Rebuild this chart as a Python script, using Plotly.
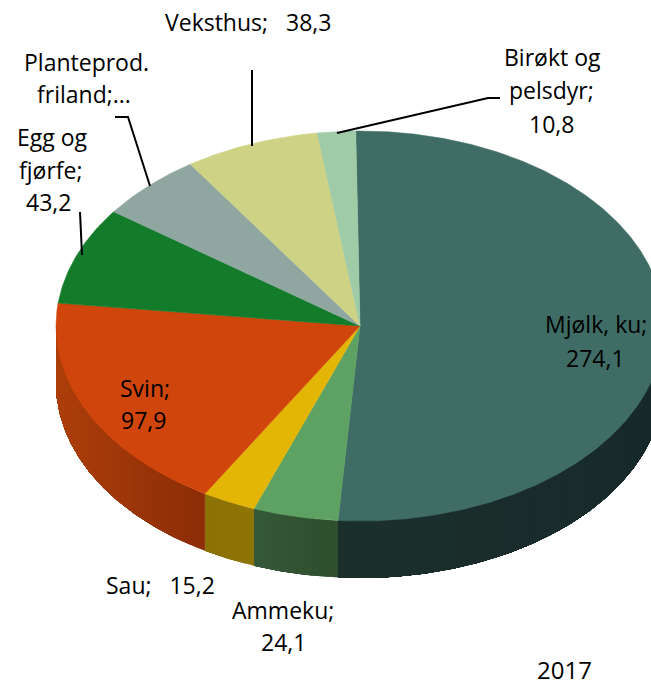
import numpy as np
import plotly.graph_objects as go

# Data (2017); Planteprod. value is hidden in the source label, estimated from its slice
categories = ["Mjølk, ku", "Ammeku", "Sau", "Svin", "Egg og fjørfe",
              "Planteprod. friland", "Veksthus", "Birøkt og pelsdyr"]
values = [274.1, 24.1, 15.2, 97.9, 43.2, 29.9, 38.3, 10.8]

top_colors = ["#3f6d65", "#5ea263", "#e3b606", "#d0450c", "#137c2b",
              "#90a7a1", "#cdd285", "#9fcba6"]
wall_left = ["#1c312d", "#36593a", "#8c7205", "#ad3f0b", "#0b4a1a",
             "#566460", "#7b7e50", "#5f7a64"]
wall_right = ["#18292a", "#2f4f2d", "#8f7406", "#8c2d07", "#0b4a1a",
              "#566460", "#7b7e50", "#5f7a64"]

# Pie geometry in picture pixels
CX, CY, RX, RY, DEPTH, START = 360, 326, 304, 195, 57, -0.8
W, H = 651, 687


def hex2rgb(h):
    return np.array([int(h[i:i + 2], 16) for i in (1, 3, 5)], dtype=float)


def ell(t):
    r = np.radians(t)
    return CX + RX * np.sin(r), CY - RY * np.cos(r)


fig = go.Figure()
fr = np.array(values) / sum(values) * 360
edges = START + np.concatenate([[0], np.cumsum(fr)])

# Side wall: overlapping bands shaded across each front-facing slice (painter's order)
for i in range(len(values)):
    a, b = max(edges[i], 90), min(edges[i + 1], 270)
    if b <= a:
        continue
    n = max(int((b - a) / 1.5), 1)
    ts = np.linspace(a, b, n + 1)
    c0, c1 = hex2rgb(wall_left[i]), hex2rgb(wall_right[i])
    xa, xb = ell(a)[0], ell(b)[0]
    for j in range(n):
        sub = np.linspace(ts[j], b, max(int((b - ts[j]) * 2), 3))
        x, y = ell(sub)
        xs = np.concatenate([x, x[::-1], [x[0]]])
        ys = np.concatenate([y, y[::-1] + DEPTH, [y[0]]])
        xm = ell((ts[j] + ts[j + 1]) / 2)[0]
        f = (xa - xm) / (xa - xb)
        col = c1 + (c0 - c1) * f
        colour = "rgb(%d,%d,%d)" % tuple(col)
        fig.add_trace(go.Scatter(x=xs, y=ys, mode="lines", fill="toself", fillcolor=colour,
                                 line=dict(width=0), hoverinfo="skip", showlegend=False))

# Top face
for i, name in enumerate(categories):
    t = np.linspace(edges[i], edges[i + 1], max(int(fr[i] * 2), 4))
    x, y = ell(t)
    fig.add_trace(go.Scatter(x=np.r_[CX, x, CX], y=np.r_[CY, y, CY], mode="lines", fill="toself",
                             fillcolor=top_colors[i], line=dict(color=top_colors[i], width=0.5),
                             name=name, showlegend=False))

# Labels: one entry per text line, (text, x, y)
label_lines = [
    ("Veksthus;\u00a0\u00a0 38,3", 248, 22),
    ("Planteprod.", 86, 62), ("friland;...", 84, 94),
    ("Egg og", 52, 137), ("fjørfe;", 50, 170), ("43,2", 48, 202),
    ("Birøkt og", 552, 57), ("pelsdyr;", 551, 90), ("10,8", 551, 124),
    ("Mjølk, ku;", 596, 324), ("274,1", 595, 358),
    ("Svin;", 145, 388), ("97,9", 143, 420),
    ("Sau;\u00a0\u00a0 15,2", 160, 585),
    ("Ammeku;", 283, 610), ("24,1", 283, 642),
]
annotations = [dict(x=x, y=y, text=s, showarrow=False, xanchor="center", yanchor="middle",
                    font=dict(family="Open Sans", size=23, color="#000000"))
               for s, x, y in label_lines]
annotations.append(dict(x=564, y=669, text="2017", showarrow=False, xanchor="center",
                        yanchor="middle", font=dict(family="Open Sans", size=24, color="#000000")))

leaders = ["M252,70 L252,146", "M115,117 L128,117 L150,186", "M80,212 L82,255",
           "M337,133 L488,98 L500,98"]
shapes = [dict(type="path", path=p, xref="x", yref="y", line=dict(color="#000000", width=2))
          for p in leaders]

fig.update_layout(
    width=W, height=H, margin=dict(l=0, r=0, t=0, b=0),
    paper_bgcolor="white", plot_bgcolor="white", showlegend=False,
    xaxis=dict(range=[0, W], visible=False, fixedrange=True),
    yaxis=dict(range=[H, 0], visible=False, fixedrange=True),
    annotations=annotations, shapes=shapes,
)
fig.write_html("out.html", config=dict(displayModeBar=False),
               post_script="document.body.style.margin='0';document.documentElement.style.overflow='hidden';")
